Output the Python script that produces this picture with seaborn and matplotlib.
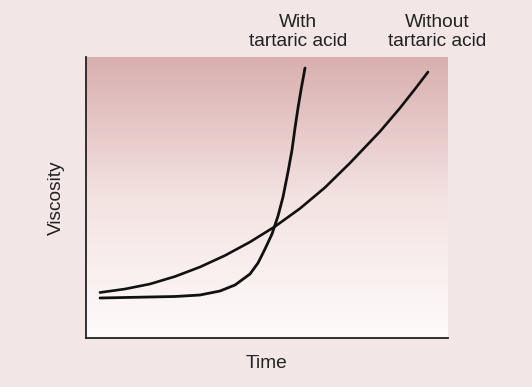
import numpy as np
import pandas as pd
import matplotlib
matplotlib.use("Agg")
import matplotlib.pyplot as plt
import seaborn as sns
from matplotlib.colors import LinearSegmentedColormap

# Data (arbitrary units)
without_x = [14, 39, 64, 89, 114, 139, 164, 189, 214, 239, 264, 294, 314, 329, 342]
without_y = [45.5, 49, 54, 61.5, 71, 82.5, 96, 111.5, 129.5, 150.5, 175, 206.5, 230, 249, 266]
with_x = [14, 39, 64, 89, 114, 134, 149, 164, 172, 179, 186, 192, 197, 202, 206, 209, 212, 215, 219]
with_y = [40, 40.5, 41, 41.5, 43, 47, 53, 64, 75, 89, 104, 122, 141, 166, 188, 210, 230, 248, 270]

labels = ["With\ntartaric acid", "Without\ntartaric acid"]
x_label = "Time"
y_label = "Viscosity"

sns.set_theme(style="white")
plt.rcParams['font.family'] = ['Liberation Sans', 'DejaVu Sans']

bg = "#f3e6e6"
fig = plt.figure(figsize=(5.32, 3.87), dpi=100, facecolor=bg)
ax = fig.add_axes([86/532, 1-338/387, (448-86)/532, (338-57)/387])

cmap = LinearSegmentedColormap.from_list("g", ["#fefbfb", "#f3e3e1", "#d9afaf"])
grad = np.linspace(0, 1, 256).reshape(-1, 1)
ax.imshow(grad, cmap=cmap, aspect="auto", extent=[0, 1, 0, 1],
          transform=ax.transAxes, origin="lower", zorder=0)

df_with = pd.DataFrame({"x": with_x, "y": with_y})
df_without = pd.DataFrame({"x": without_x, "y": without_y})
sns.lineplot(data=df_with, x="x", y="y", ax=ax, color="#111111", lw=2.0, sort=False, zorder=3)
sns.lineplot(data=df_without, x="x", y="y", ax=ax, color="#111111", lw=1.9, sort=False, zorder=3)
for ln in ax.get_lines():
    ln.set_solid_joinstyle("round")
    ln.set_solid_capstyle("round")

ax.set_xlim(0, 362)
ax.set_ylim(0, 281)
ax.set_xticks([])
ax.set_yticks([])
for s in ["top", "right"]:
    ax.spines[s].set_visible(False)
for s in ["left", "bottom"]:
    ax.spines[s].set_visible(True)
    ax.spines[s].set_color("#222222")
    ax.spines[s].set_linewidth(1.3)

ax.set_xlabel(x_label, fontsize=13.8, color="#222222", labelpad=12)
ax.set_ylabel(y_label, fontsize=13.8, color="#222222", labelpad=15)

fig.text(298/532, 1-32/387, labels[0], ha="center", va="center", fontsize=13.8,
         color="#222222", linespacing=1.1)
fig.text(437/532, 1-32/387, labels[1], ha="center", va="center", fontsize=13.8,
         color="#222222", linespacing=1.1)

fig.savefig("out.png", dpi=100, facecolor=bg)
